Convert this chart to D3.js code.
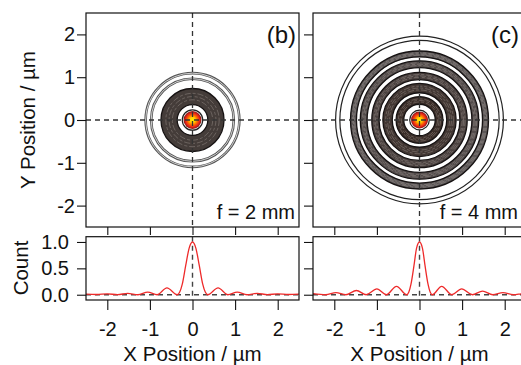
<!DOCTYPE html>
<html>
<head>
<meta charset="utf-8">
<script src="https://cdn.jsdelivr.net/npm/d3@7"></script>
<style>
  body { margin: 0; background: #fff; }
</style>
</head>
<body>
<svg id="chart" width="521" height="365"></svg>
<script>
const FONT = '"Liberation Sans", Arial, Helvetica, sans-serif';

// labels
const panelTags = ["(b)", "(c)"];
const focalTags = ["f = 2 mm", "f = 4 mm"];
const posTicks = [-2, -1, 0, 1, 2];
const countTicks = [0, 0.5, 1];

// 2D focal spot, radii in µm
const blobRadius = [0.21, 0.2];
const bandsB = [[0.36, 0.74]];
const bandsC = [[0.37, 0.55], [0.64, 0.86], [0.95, 1.12], [1.23, 1.39], [1.48, 1.62]];
const linesB = [0.24, 0.97, 1.10];
const linesC = [0.23, 1.87, 1.97];

// line profiles through the centre (normalised count)
const profBx = [-2.5, -2.25, -2.0, -1.76, -1.52, -1.28, -1.05, -0.83, -0.6, -0.36, -0.3, -0.24, -0.16, -0.08, 0,
                0.08, 0.16, 0.24, 0.3, 0.36, 0.6, 0.83, 1.05, 1.28, 1.52, 1.76, 2.0, 2.25, 2.5];
const profBy = [0.01, 0.004, 0.015, 0.003, 0.025, 0.0, 0.05, 0.0, 0.13, 0.0, 0.05, 0.2, 0.55, 0.88, 1.0,
                0.88, 0.55, 0.2, 0.05, 0.0, 0.13, 0.0, 0.05, 0.0, 0.025, 0.003, 0.015, 0.004, 0.01];
const profCx = [-2.5, -2.2, -1.96, -1.73, -1.48, -1.25, -1.0, -0.78, -0.54, -0.3, -0.25, -0.2, -0.13, -0.07, 0,
                0.07, 0.13, 0.2, 0.25, 0.3, 0.52, 0.76, 0.99, 1.24, 1.48, 1.72, 1.96, 2.2, 2.45, 2.5];
const profCy = [0.02, 0.0, 0.04, 0.0, 0.08, 0.0, 0.11, 0.0, 0.16, 0.0, 0.05, 0.2, 0.55, 0.88, 1.0,
                0.88, 0.55, 0.2, 0.05, 0.0, 0.16, 0.0, 0.11, 0.0, 0.07, 0.0, 0.04, 0.0, 0.02, 0.015];

const bands = [bandsB, bandsC];
const lines = [linesB, linesC];
const profX = [profBx, profCx];
const profY = [profBy, profCy];

const svg = d3.select("#chart");
const defs = svg.append("defs");

// spot colour
const grad = defs.append("radialGradient").attr("id", "spot");
[[0, "#fff200"], [0.3, "#ffcf00"], [0.55, "#ff6a00"], [0.8, "#e3201b"], [1, "#7a1a12"]]
  .forEach(s => grad.append("stop").attr("offset", s[0]).attr("stop-color", s[1]));

const colX = [86, 313];
const pw = 213;
const topRange = [227, 13];
const botRange = [300, 236.7];

const yTop = d3.scaleLinear().domain([-2.5, 2.5]).range(topRange);
const yBot = d3.scaleLinear().domain([-0.1, 1.1]).range(botRange);

function fixAxis(g, size) {
  g.attr("font-family", FONT).attr("font-size", size);
  g.select(".domain").remove();
  g.selectAll(".tick line").attr("stroke", "#111").attr("stroke-width", 1.1);
  g.selectAll(".tick text").attr("fill", "#111");
}

colX.forEach((x0, i) => {
  const x = d3.scaleLinear().domain([-2.5, 2.5]).range([x0, x0 + pw]);
  const rpx = r => x(r) - x(0);
  // right column runs past the page edge, keep its labels inside
  const labelRight = Math.min(x0 + pw - 3, 519);

  // ---- top panel: 2D spot ----
  defs.append("clipPath").attr("id", "clipT" + i)
    .append("rect").attr("x", x0).attr("y", 13).attr("width", pw).attr("height", 214);

  const top = svg.append("g").attr("clip-path", `url(#clipT${i})`);
  const spot = top.append("g").attr("transform", `translate(${x(0)},${yTop(0)})`);

  const bandColor = d3.interpolateRgb("#3a2d28", "#5a5555");
  bands[i].forEach((b, k) => {
    const col = bands[i].length > 1 ? bandColor(k / (bands[i].length - 1)) : "#443c39";
    spot.append("path")
      .attr("d", d3.arc()({ innerRadius: rpx(b[0]), outerRadius: rpx(b[1]), startAngle: 0, endAngle: 2 * Math.PI }))
      .attr("fill", col);
    // contour texture inside each band
    d3.range(0.3, 0.75, 0.2).forEach(f => {
      spot.append("circle")
        .attr("r", rpx(b[0] + f * (b[1] - b[0])))
        .attr("fill", "none")
        .attr("stroke", "#c9bfba")
        .attr("stroke-width", 0.5)
        .attr("stroke-dasharray", "6,2,3,2")
        .attr("opacity", 0.6);
    });
    [b[0], b[1]].forEach(r => {
      spot.append("circle").attr("r", rpx(r))
        .attr("fill", "none").attr("stroke", "#161212").attr("stroke-width", 1.3);
    });
  });

  lines[i].forEach((r, k) => {
    const outer = k > 0;
    spot.append("circle").attr("r", rpx(r))
      .attr("fill", "none")
      .attr("stroke", outer && i === 0 ? "#555" : "#222")
      .attr("stroke-width", outer && i === 0 ? 2.6 : 1.2);
    if (outer && i === 0) {
      spot.append("circle").attr("r", rpx(r))
        .attr("fill", "none").attr("stroke", "#eee").attr("stroke-width", 0.8);
    }
  });

  spot.append("circle").attr("r", rpx(blobRadius[i]))
    .attr("fill", "url(#spot)");

  // cross-hair
  top.append("line")
    .attr("x1", x0).attr("x2", x0 + pw).attr("y1", yTop(0)).attr("y2", yTop(0))
    .attr("stroke", "#333").attr("stroke-width", 1.3).attr("stroke-dasharray", "5,4");
  top.append("line")
    .attr("x1", x(0)).attr("x2", x(0)).attr("y1", 13).attr("y2", 227)
    .attr("stroke", "#333").attr("stroke-width", 1.3).attr("stroke-dasharray", "5,4");

  svg.append("rect").attr("x", x0).attr("y", 13).attr("width", pw).attr("height", 214)
    .attr("fill", "none").attr("stroke", "#111").attr("stroke-width", 1.2);

  svg.append("g").attr("transform", `translate(${x0},0)`)
    .call(d3.axisLeft(yTop).tickValues(posTicks).tickSize(9).tickPadding(2)
      .tickFormat(i === 0 ? d => String(d) : () => ""))
    .call(g => fixAxis(g, 20));
  svg.append("g").attr("transform", "translate(0,227)")
    .call(d3.axisBottom(x).tickValues(posTicks).tickSize(8).tickFormat(() => ""))
    .call(g => fixAxis(g, 20));

  svg.append("text").text(panelTags[i])
    .attr("x", labelRight).attr("y", 43).attr("text-anchor", "end")
    .attr("font-family", FONT).attr("font-size", 24).attr("fill", "#111");
  svg.append("text").text(focalTags[i])
    .attr("x", labelRight - 1).attr("y", 219).attr("text-anchor", "end")
    .attr("font-family", FONT).attr("font-size", 20).attr("fill", "#111");

  // ---- bottom panel: profile ----
  defs.append("clipPath").attr("id", "clipB" + i)
    .append("rect").attr("x", x0).attr("y", 236.7).attr("width", pw).attr("height", 63.3);
  const bot = svg.append("g").attr("clip-path", `url(#clipB${i})`);

  bot.append("line")
    .attr("x1", x0).attr("x2", x0 + pw).attr("y1", yBot(0)).attr("y2", yBot(0))
    .attr("stroke", "#444").attr("stroke-width", 1.4).attr("stroke-dasharray", "5,4");
  bot.append("line")
    .attr("x1", x(0)).attr("x2", x(0)).attr("y1", 236.7).attr("y2", 300)
    .attr("stroke", "#444").attr("stroke-width", 1.4).attr("stroke-dasharray", "5,4");

  const pts = profX[i].map((v, k) => [v, profY[i][k]]);
  bot.append("path")
    .attr("d", d3.line().x(d => x(d[0])).y(d => yBot(d[1])).curve(d3.curveMonotoneX)(pts))
    .attr("fill", "none").attr("stroke", "#ee2a2a").attr("stroke-width", 1.3);

  svg.append("rect").attr("x", x0).attr("y", 236.7).attr("width", pw).attr("height", 63.3)
    .attr("fill", "none").attr("stroke", "#111").attr("stroke-width", 1.2);

  svg.append("g").attr("transform", `translate(${x0},0)`)
    .call(d3.axisLeft(yBot).tickValues(countTicks).tickSize(9).tickPadding(8)
      .tickFormat(i === 0 ? d3.format(".1f") : () => ""))
    .call(g => fixAxis(g, 20));
  svg.append("g").attr("transform", "translate(0,300)")
    .call(d3.axisBottom(x).tickValues(posTicks).tickSize(10).tickFormat(d => String(d)))
    .call(g => fixAxis(g, 20))
    .call(g => g.selectAll(".tick text").attr("y", 36).attr("dy", 0));

  svg.append("text").text("X Position / µm")
    .attr("x", x(0)).attr("y", 361).attr("text-anchor", "middle")
    .attr("font-family", FONT).attr("font-size", 20.5).attr("fill", "#111");
});

svg.append("text").text("Y Position / µm")
  .attr("transform", "translate(35,120) rotate(-90)").attr("text-anchor", "middle")
  .attr("font-family", FONT).attr("font-size", 20.5).attr("fill", "#111");
svg.append("text").text("Count")
  .attr("transform", "translate(28,268) rotate(-90)").attr("text-anchor", "middle")
  .attr("font-family", FONT).attr("font-size", 20.5).attr("fill", "#111");
</script>
</body>
</html>
